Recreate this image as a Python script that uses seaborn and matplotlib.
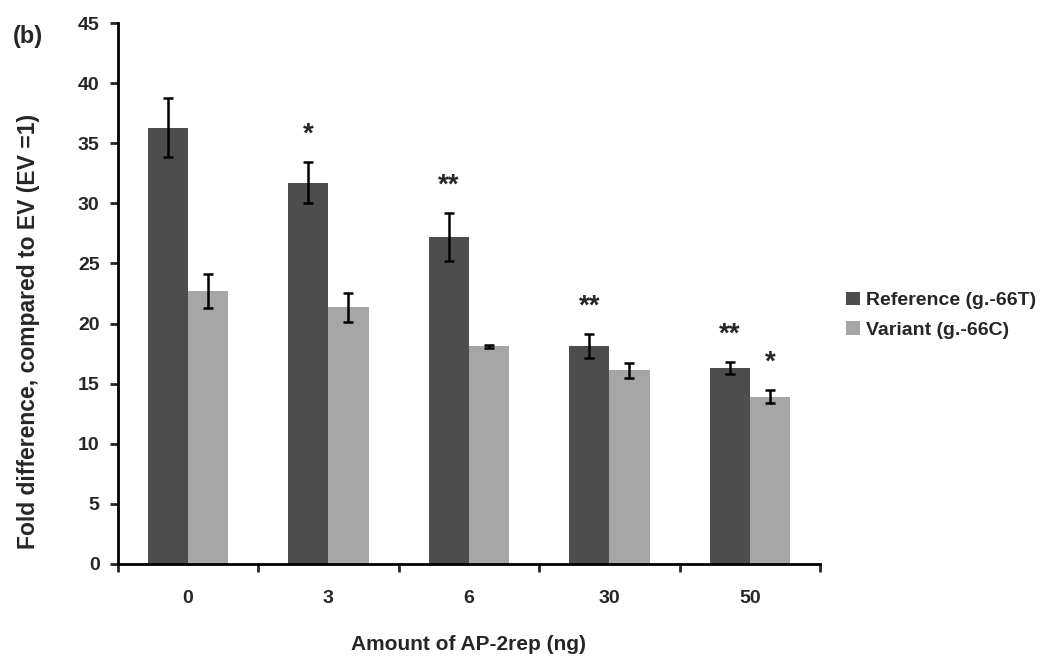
import matplotlib
matplotlib.use("Agg")
import matplotlib.pyplot as plt
import seaborn as sns
import pandas as pd
import numpy as np

# values
amounts = ["0", "3", "6", "30", "50"]
reference = [36.3, 31.7, 27.2, 18.1, 16.3]
reference_err = [2.45, 1.7, 2.0, 1.0, 0.5]
variant = [22.7, 21.35, 18.1, 16.1, 13.9]
variant_err = [1.4, 1.2, 0.12, 0.6, 0.55]
reference_stars = ["", "*", "**", "**", "**"]
variant_stars = ["", "", "", "", "*"]

series = ["Reference (g.-66T)", "Variant (g.-66C)"]
colors = ["#4d4d4d", "#a6a6a6"]

df = pd.DataFrame({
    "amount": amounts * 2,
    "value": reference + variant,
    "err": reference_err + variant_err,
    "stars": reference_stars + variant_stars,
    "series": [series[0]] * len(amounts) + [series[1]] * len(amounts),
})

sns.set_style("white")
plt.rcParams["font.family"] = ["Liberation Sans", "DejaVu Sans"]
plt.rcParams["font.weight"] = "bold"

fig = plt.figure(figsize=(10.5, 6.58), dpi=100)
ax = fig.add_axes([0.112, 0.143, 0.669, 0.822])

sns.barplot(data=df, x="amount", y="value", hue="series", order=amounts,
            hue_order=series, palette=colors, width=0.573, errorbar=None,
            saturation=1, linewidth=0, ax=ax)

# error bars and significance marks on top of each bar
bars = [p for p in ax.patches if p.get_height() > 0]
for p, (_, row) in zip(bars, df.iterrows()):
    cx = p.get_x() + p.get_width() / 2
    ax.errorbar(cx, row["value"], yerr=row["err"], fmt="none", ecolor="black",
                elinewidth=1.8, capsize=3.5, capthick=1.8)
    if row["stars"]:
        top = row["value"] + row["err"]
        ax.text(cx, top + 1.2, row["stars"], ha="center", va="bottom",
                fontsize=20, fontweight="bold")

ax.set_ylim(0, 45)
ax.set_xlim(-0.5, len(amounts) - 0.5)
ax.set_yticks(np.arange(0, 46, 5))
ax.set_xticks(np.arange(-0.5, len(amounts), 1.0), minor=True)
ax.tick_params(axis="x", which="major", length=0, pad=19, labelsize=14)
ax.tick_params(axis="x", which="minor", length=6, width=2, direction="out", bottom=True)
ax.tick_params(axis="y", length=6, width=2, direction="out", left=True, labelsize=14, pad=7)
for lab in ax.get_xticklabels() + ax.get_yticklabels():
    lab.set_fontweight("bold")

sns.despine(ax=ax)
for s in ["left", "bottom"]:
    ax.spines[s].set_linewidth(2)
    ax.spines[s].set_color("black")

ax.set_xlabel("Amount of AP-2rep (ng)", fontsize=15, fontweight="bold", labelpad=20)
ax.set_ylabel("Fold difference, compared to EV (EV =1)", fontsize=16.5,
              fontweight="bold")
ax.yaxis.set_label_coords(-0.11, 0.43)

ax.legend(loc="center left", bbox_to_anchor=(0.806, 0.521), bbox_transform=fig.transFigure,
          frameon=False, handlelength=0.7, handleheight=0.7, handletextpad=0.3,
          labelspacing=0.6, borderaxespad=0, borderpad=0,
          prop={"size": 14, "weight": "bold"})

fig.text(0.012, 0.945, "(b)", fontsize=17, fontweight="bold", ha="left", va="center")

fig.savefig("out.png", dpi=100)
